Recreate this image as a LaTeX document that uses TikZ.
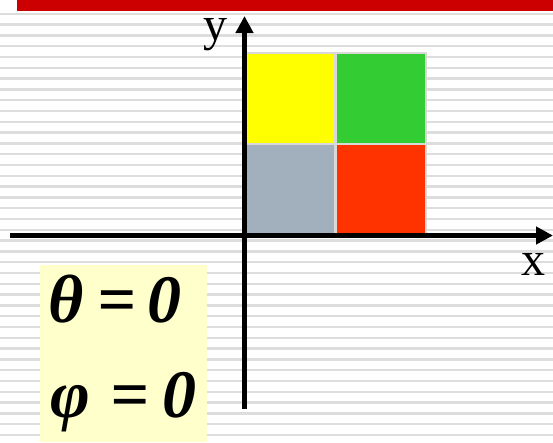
\documentclass[tikz,border=0pt]{standalone}
\usepackage{fontspec}
\setmainfont{Liberation Serif}
\usetikzlibrary{arrows.meta}
\definecolor{barred}{HTML}{CC0000}
\definecolor{stripecol}{HTML}{DDDDDD}
\definecolor{cyellow}{HTML}{FFFF00}
\definecolor{cgreen}{HTML}{33CC33}
\definecolor{cgray}{HTML}{A2B0BE}
\definecolor{cred}{HTML}{FF3300}
\definecolor{cborder}{HTML}{D8D8D8}
\definecolor{boxcol}{HTML}{FFFFCC}
\tikzset{
  cell/.style={draw=cborder, line width=2pt, minimum width=90pt, minimum height=91pt, inner sep=0pt},
  axisline/.style={line width=5.5pt, -{Triangle[length=17pt,width=17pt]}},
  axislabel/.style={font=\fontsize{48}{56}\selectfont, inner sep=0pt, anchor=base west},
  eqtext/.style={font=\fontsize{68}{80}\selectfont\bfseries\itshape, inner sep=0pt, anchor=base west},
  labelbox/.style={fill=boxcol, minimum width=167pt, minimum height=177pt, inner sep=0pt}
}
\begin{document}
\begin{tikzpicture}[x=1pt,y=-1pt]
\useasboundingbox (0,0) rectangle (553,442);
\fill[white] (0,0) rectangle (553,442);
\foreach \k in {0,...,40} { \fill[stripecol] (0,{12.6+10.8*\k}) rectangle (553,{15+10.8*\k}); }
\fill[barred] (17,0) rectangle (553,10.5);
% cells
\node[cell, fill=cyellow] (c1) at (290,98) {};
\node[cell, fill=cgreen] (c2) at (380.5,98) {};
\node[cell, fill=cgray] (c3) at (290,189) {};
\node[cell, fill=cred] (c4) at (380.5,189) {};
% axes
\coordinate (yb) at (244.5,409);
\coordinate (yt) at (244.5,16);
\coordinate (xl) at (10,235.5);
\coordinate (xr) at (553,235.5);
\draw[axisline] (yb) -- (yt);
\draw[axisline] (xl) -- (xr);
\node[axislabel] (ylab) at (203,40) {y};
\node[axislabel] (xlab) at (521,275) {x};
% label box
\node[labelbox] (lb) at (123.5,353.5) {};
\node[eqtext] (th) at (48,322) {θ\hspace{14pt}=\hspace{11pt}0};
\node[eqtext] (ph) at (50,417) {φ\hspace{21pt}=\hspace{13pt}0};
\end{tikzpicture}
\end{document}
